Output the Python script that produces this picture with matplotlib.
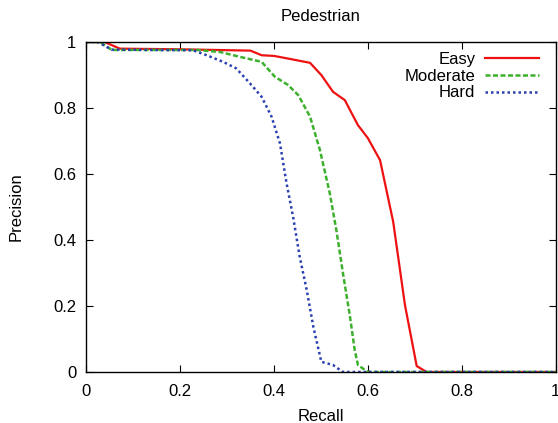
import matplotlib

matplotlib.use('Agg')
import matplotlib.pyplot as plt

plt.rcParams['font.family'] = ['Liberation Sans', 'DejaVu Sans']

# Precision/recall curves
easy_recall = [0.0, 0.04, 0.072, 0.20, 0.35, 0.374, 0.40, 0.43, 0.477, 0.501, 0.526,
               0.551, 0.579, 0.60, 0.626, 0.654, 0.679, 0.704, 0.725, 1.0]
easy_prec = [1.0, 1.0, 0.98, 0.978, 0.974, 0.96, 0.958, 0.95, 0.937, 0.90, 0.849,
             0.824, 0.748, 0.709, 0.642, 0.455, 0.203, 0.018, 0.0, 0.0]

mod_recall = [0.0, 0.03, 0.055, 0.235, 0.285, 0.328, 0.374, 0.402, 0.43, 0.452, 0.477,
              0.498, 0.519, 0.533, 0.547, 0.562, 0.572, 0.579, 0.60, 1.0]
mod_prec = [1.0, 1.0, 0.976, 0.976, 0.97, 0.955, 0.94, 0.895, 0.87, 0.839, 0.774,
            0.673, 0.542, 0.43, 0.30, 0.168, 0.067, 0.021, 0.0, 0.0]

hard_recall = [0.0, 0.025, 0.055, 0.228, 0.257, 0.292, 0.32, 0.349, 0.374, 0.395, 0.413,
               0.427, 0.441, 0.455, 0.47, 0.484, 0.501, 0.526, 0.547, 1.0]
hard_prec = [1.0, 1.0, 0.977, 0.975, 0.96, 0.94, 0.92, 0.875, 0.834, 0.774, 0.693,
             0.572, 0.47, 0.349, 0.248, 0.137, 0.031, 0.021, 0.0, 0.0]

fig = plt.figure(figsize=(5.58, 4.23), dpi=100)
ax = fig.add_axes([0.154, 0.1206, 0.842, 0.78])

ax.plot(easy_recall, easy_prec, color='#ee1111', lw=1.6, label='Easy')
ax.plot(mod_recall, mod_prec, color='#3cb02c', lw=1.8, ls=(0, (2, 1)), label='Moderate')
ax.plot(hard_recall, hard_prec, color='#2a3fb0', lw=1.8, ls=(0, (1, 1.2)), label='Hard')

ax.set_xlim(0, 1)
ax.set_ylim(0, 1)
ax.set_xticks([0, 0.2, 0.4, 0.6, 0.8, 1])
ax.set_xticklabels(['0', '0.2', '0.4', '0.6', '0.8', '1'])
ax.set_yticks([0, 0.2, 0.4, 0.6, 0.8, 1])
ax.set_yticklabels(['0', '0.2', '0.4', '0.6', '0.8', '1'])
ax.tick_params(direction='in', top=True, right=True, labelsize=12, length=5)
ax.tick_params(axis='x', pad=9)
ax.tick_params(axis='y', pad=7)
for s in ax.spines.values():
    s.set_linewidth(1.0)

ax.set_title('Pedestrian', fontsize=12, pad=15)
ax.set_xlabel('Recall', fontsize=12, labelpad=7)
ax.set_ylabel('Precision', fontsize=12, labelpad=21)

ax.legend(loc='upper right', frameon=False, markerfirst=False, fontsize=12,
          handlelength=3.2, handletextpad=0.6, labelspacing=0.1,
          borderaxespad=0.2, bbox_to_anchor=(0.985, 1.0))

fig.savefig('out.png', dpi=100)
